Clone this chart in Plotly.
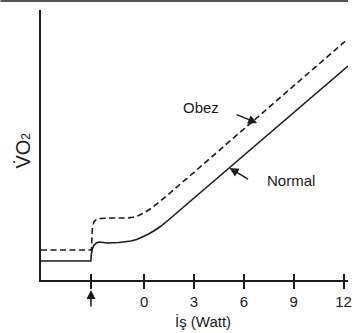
import plotly.graph_objects as go

# ---- data (Watt on x, arbitrary VO2 units on y) ----
normal_x = [-6.21, -3.21, -3.18, -3.12, -3.03, -2.88, -2.70, -2.53, -2.23, -1.52,
            -0.80, -0.45, -0.09, 0.27, 0.62, 0.98, 1.46, 12.27]
normal_y = [19, 19, 26, 31, 34.5, 37, 38, 37.5, 37, 37.5,
            39, 40.5, 43, 46, 49.5, 53.5, 60, 214]
obez_x = [-6.21, -3.18, -3.15, -3.12, -3.03, -2.88, -2.64, -2.11, -1.04, -0.68,
          -0.33, 0.03, 0.45, 0.86, 1.28, 12.09]
obez_y = [30, 30, 40, 52, 58, 60.5, 61.5, 62, 62, 62.7,
          64.5, 67.5, 72, 77.2, 83, 238.6]
tick_vals = [-3.2, 0, 3, 6, 9, 12]
tick_text = ["", "0", "3", "6", "9", "12"]
x_range = [-6.21, 12.27]
y_range = [0, 270]

FONT = "Liberation Sans, Arial, sans-serif"
INK = "#1a1a1a"

fig = go.Figure()
fig.add_trace(go.Scatter(x=obez_x, y=obez_y, mode="lines",
                         line=dict(color=INK, width=1.6, dash="6px,3.5px"),
                         showlegend=False, hoverinfo="skip"))
fig.add_trace(go.Scatter(x=normal_x, y=normal_y, mode="lines",
                         line=dict(color=INK, width=1.6),
                         showlegend=False, hoverinfo="skip"))
# helper trace so the overlay axis (inside tick halves) is drawn
fig.add_trace(go.Scatter(x=[None], y=[None], xaxis="x2", mode="lines",
                         showlegend=False, hoverinfo="skip"))

fig.update_layout(
    width=352, height=333,
    margin=dict(l=41, r=0, t=10, b=53),
    paper_bgcolor="white", plot_bgcolor="white",
    font=dict(family=FONT, color=INK, size=15),
    xaxis=dict(range=x_range, tickvals=tick_vals, ticktext=tick_text,
               ticks="outside", ticklen=7, tickwidth=1.5, tickcolor=INK,
               showline=True, linecolor=INK, linewidth=1.5,
               showgrid=False, zeroline=False, fixedrange=True,
               ticklabeloverflow="allow",
               tickfont=dict(size=15, family=FONT, color=INK)),
    xaxis2=dict(range=x_range, tickvals=tick_vals, overlaying="x", anchor="y",
                side="bottom", ticks="inside", ticklen=6, tickwidth=1.5,
                tickcolor=INK, showticklabels=False, showline=False,
                showgrid=False, zeroline=False, fixedrange=True),
    yaxis=dict(range=y_range, showticklabels=False, ticks="",
               showline=True, linecolor=INK, linewidth=1.5,
               showgrid=False, zeroline=False, fixedrange=True),
    showlegend=False,
)

# top gray border
fig.add_shape(type="line", xref="paper", yref="paper",
              x0=-0.132, x1=1.0, y0=1.0333, y1=1.0333,
              line=dict(color="#555555", width=2))

anns = [
    # axis titles
    dict(text="İş (Watt)", xref="paper", yref="paper", x=0.529, y=-0.152,
         xanchor="center", yanchor="middle", showarrow=False,
         font=dict(size=15, family=FONT, color=INK)),
    dict(text="V\u0307O<span style='font-size:12px'>2</span>", xref="paper", yref="paper",
         x=-0.058, y=0.48, textangle=-90, xanchor="center", yanchor="middle",
         showarrow=False, font=dict(size=20, family=FONT, color=INK)),
    # curve labels
    dict(text="Obez", x=3.40, y=173, xref="x", yref="y", showarrow=False,
         xanchor="center", yanchor="middle", font=dict(size=15, family=FONT, color=INK)),
    dict(text="Normal", x=8.82, y=99.5, xref="x", yref="y", showarrow=False,
         xanchor="center", yanchor="middle", font=dict(size=15, family=FONT, color=INK)),
    # pointer arrows
    dict(text="", x=6.80, y=157, xref="x", yref="y", ax=-22, ay=-9,
         showarrow=True, arrowhead=2, arrowsize=1.2, arrowwidth=1.5, arrowcolor=INK),
    dict(text="", x=5.14, y=112, xref="x", yref="y", ax=20, ay=12,
         showarrow=True, arrowhead=2, arrowsize=1.2, arrowwidth=1.5, arrowcolor=INK),
    # start marker arrow below first tick
    dict(text="", x=-3.2, y=-0.037, xref="x", yref="paper", ax=0, ay=18,
         showarrow=True, arrowhead=2, arrowsize=1.2, arrowwidth=1.5, arrowcolor=INK),
]
for a in anns:
    fig.add_annotation(**a)

fig.write_html("out.html", config={"displayModeBar": False})
